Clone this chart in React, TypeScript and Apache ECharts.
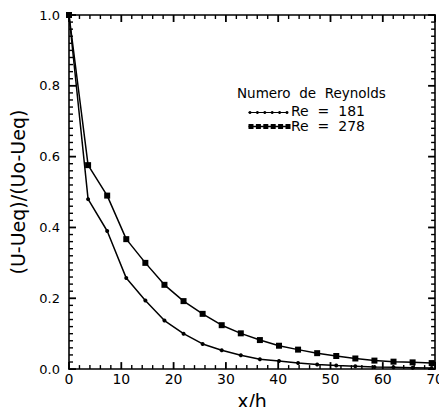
import React, { useEffect, useRef } from "react";
import * as echarts from "echarts";

const xPositions = [0, 3.65, 7.3, 10.95, 14.6, 18.25, 21.9, 25.55, 29.2, 32.85, 36.5, 40.15, 43.8, 47.45, 51.1, 54.75, 58.4, 62.05, 65.7, 69.35];
const re181 = [1.0, 0.48, 0.39, 0.257, 0.194, 0.137, 0.1, 0.071, 0.053, 0.039, 0.028, 0.023, 0.017, 0.013, 0.01, 0.008, 0.006, 0.005, 0.004, 0.003];
const re278 = [1.0, 0.576, 0.49, 0.367, 0.3, 0.238, 0.192, 0.156, 0.124, 0.101, 0.082, 0.066, 0.055, 0.045, 0.037, 0.03, 0.024, 0.021, 0.019, 0.017];
const seriesNames = ["Re  =  181", "Re  =  278"];
const legendTitle = "Numero  de  Reynolds";
const xTitle = "x/h";
const yTitle = "(U-Ueq)/(Uo-Ueq)";

const X_MIN = 0;
const X_MAX = 70;
const X_STEP = 10;
const X_MINOR_PER_MAJOR = 5;
const Y_MIN = 0;
const Y_MAX = 1;
const Y_STEP = 0.2;
const Y_MINOR_PER_MAJOR = 10;

// tick marks: [value, isMajor]
const xTicks: number[][] = [];
for (let i = 0; i <= ((X_MAX - X_MIN) / X_STEP) * X_MINOR_PER_MAJOR; i++) {
  xTicks.push([X_MIN + (i * X_STEP) / X_MINOR_PER_MAJOR, i % X_MINOR_PER_MAJOR === 0 ? 1 : 0]);
}
const yTicks: number[][] = [];
for (let i = 0; i <= Math.round(((Y_MAX - Y_MIN) / Y_STEP) * Y_MINOR_PER_MAJOR); i++) {
  yTicks.push([Y_MIN + (i * Y_STEP) / Y_MINOR_PER_MAJOR, i % Y_MINOR_PER_MAJOR === 0 ? 1 : 0]);
}

const FONT = "DejaVu Sans";
const MAJOR_LEN = 7;
const MINOR_LEN = 4;

export default function App() {
  const ref = useRef<HTMLDivElement>(null);
  useEffect(() => {
    if (!ref.current) return;
    const chart = echarts.init(ref.current, null, { renderer: "svg" });
    const legendDots = (cx0: number, cy: number, n: number, size: number, square: boolean) => {
      const items: any[] = [];
      for (let i = 0; i < n; i++) {
        const cx = cx0 + i * 7.4;
        items.push(
          square
            ? { type: "rect", shape: { x: cx - size / 2, y: cy - size / 2, width: size, height: size }, style: { fill: "#000" } }
            : { type: "circle", shape: { cx, cy, r: size / 2 }, style: { fill: "#000" } }
        );
      }
      return items;
    };
    const axisBase = () => ({
      type: "value",
      axisLine: { show: true, onZero: false, lineStyle: { color: "#000", width: 1.6 } },
      splitLine: { show: false },
      axisTick: { show: false },
      minorTick: { show: false },
    });
    const legendGraphics: any[] = [
      {
        type: "text",
        left: 237,
        top: 86,
        style: { text: legendTitle, fontSize: 13.5, fontFamily: FONT, fill: "#000" },
      },
      {
        type: "group",
        left: 246,
        top: 110,
        children: [
          { type: "line", shape: { x1: 0, y1: 2, x2: 39, y2: 2 }, style: { stroke: "#000", lineWidth: 1.2 } },
          ...legendDots(1.5, 2, 6, 3, false),
        ],
      },
      {
        type: "text",
        left: 291,
        top: 104,
        style: { text: seriesNames[0], fontSize: 14, fontFamily: FONT, fill: "#000" },
      },
      {
        type: "group",
        left: 246,
        top: 124,
        children: [
          { type: "line", shape: { x1: 0, y1: 2.5, x2: 39, y2: 2.5 }, style: { stroke: "#000", lineWidth: 1.5 } },
          ...legendDots(2.5, 2.5, 6, 5, true),
        ],
      },
      {
        type: "text",
        left: 291,
        top: 119,
        style: { text: seriesNames[1], fontSize: 14, fontFamily: FONT, fill: "#000" },
      },
    ];
    chart.setOption({
      animation: false,
      backgroundColor: "#fff",
      textStyle: { fontFamily: FONT },
      grid: { left: 67, right: 6, top: 15, bottom: 34 },
      xAxis: [
        {
          ...axisBase(),
          position: "bottom",
          min: X_MIN,
          max: X_MAX,
          interval: X_STEP,
          axisLabel: { color: "#000", fontSize: 14, fontFamily: FONT, margin: 3 },
          name: xTitle,
          nameLocation: "middle",
          nameGap: 13,
          nameTextStyle: { color: "#000", fontSize: 19, fontFamily: FONT, verticalAlign: "top" },
        },
        {
          ...axisBase(),
          position: "top",
          min: X_MIN,
          max: X_MAX,
          interval: X_STEP,
          axisLabel: { show: false },
        },
      ],
      yAxis: [
        {
          ...axisBase(),
          position: "left",
          min: Y_MIN,
          max: Y_MAX,
          interval: Y_STEP,
          axisLabel: { color: "#000", fontSize: 13, fontFamily: FONT, margin: 9, formatter: (v: number) => v.toFixed(1) },
          name: yTitle,
          nameLocation: "middle",
          nameGap: 42,
          nameRotate: 90,
          nameTextStyle: { color: "#000", fontSize: 19, fontFamily: FONT },
        },
        {
          ...axisBase(),
          position: "right",
          min: Y_MIN,
          max: Y_MAX,
          interval: Y_STEP,
          axisLabel: { show: false },
        },
      ],
      series: [
        {
          name: seriesNames[0],
          type: "line",
          xAxisIndex: 0,
          yAxisIndex: 0,
          data: xPositions.map((x, i) => [x, re181[i]]),
          symbol: "circle",
          symbolSize: 4,
          showAllSymbol: true,
          itemStyle: { color: "#000" },
          lineStyle: { color: "#000", width: 1.5 },
        },
        {
          name: seriesNames[1],
          type: "line",
          xAxisIndex: 0,
          yAxisIndex: 0,
          data: xPositions.map((x, i) => [x, re278[i]]),
          symbol: "rect",
          symbolSize: 6,
          showAllSymbol: true,
          itemStyle: { color: "#000" },
          lineStyle: { color: "#000", width: 1.5 },
        },
      ],
      graphic: legendGraphics,
    });

    // tick marks on all four sides as filled rects, positioned through the grid's scales
    const tickGraphics: any[] = [];
    const px = (x: number, y: number) => chart.convertToPixel({ gridIndex: 0 }, [x, y]) as number[];
    xTicks.forEach(([v, m]) => {
      const len = m ? MAJOR_LEN : MINOR_LEN;
      const w = m ? 1.8 : 1.4;
      const b = px(v, Y_MIN);
      const t = px(v, Y_MAX);
      tickGraphics.push({ type: "rect", silent: true, z: 10, shape: { x: b[0] - w / 2, y: b[1] - len, width: w, height: len }, style: { fill: "#000" } });
      tickGraphics.push({ type: "rect", silent: true, z: 10, shape: { x: t[0] - w / 2, y: t[1], width: w, height: len }, style: { fill: "#000" } });
    });
    yTicks.forEach(([v, m]) => {
      const len = m ? MAJOR_LEN : MINOR_LEN;
      const w = m ? 1.8 : 1.4;
      const l = px(X_MIN, v);
      const r = px(X_MAX, v);
      tickGraphics.push({ type: "rect", silent: true, z: 10, shape: { x: l[0], y: l[1] - w / 2, width: len, height: w }, style: { fill: "#000" } });
      tickGraphics.push({ type: "rect", silent: true, z: 10, shape: { x: r[0] - len, y: r[1] - w / 2, width: len, height: w }, style: { fill: "#000" } });
    });
    chart.setOption({ graphic: [...legendGraphics, ...tickGraphics] });

    return () => chart.dispose();
  }, []);
  return <div ref={ref} style={{ width: 447, height: 415, margin: -8 }} />;
}
